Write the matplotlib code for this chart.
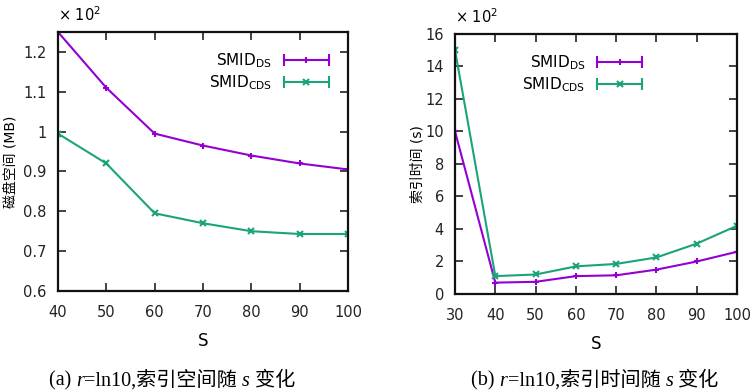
import matplotlib
matplotlib.use("Agg")
import matplotlib.pyplot as plt
from matplotlib.lines import Line2D
from matplotlib.legend_handler import HandlerLine2D, HandlerTuple
from matplotlib.offsetbox import TextArea, HPacker, AnnotationBbox

plt.rcParams["font.family"] = ["DejaVu Sans", "Noto Sans CJK SC"]

# data (values shown on the axes, i.e. x 10^2)
s_space = [40, 50, 60, 70, 80, 90, 100]
space_ds = [1.25, 1.11, 0.995, 0.965, 0.94, 0.92, 0.905]
space_cds = [0.995, 0.92, 0.795, 0.77, 0.75, 0.743, 0.743]

s_time = [30, 40, 50, 60, 70, 80, 90, 100]
time_ds = [10.0, 0.7, 0.75, 1.1, 1.15, 1.5, 2.0, 2.6]
time_cds = [15.0, 1.1, 1.2, 1.7, 1.85, 2.25, 3.1, 4.2]

purple = "#9400d3"
green = "#1ba37c"

fig = plt.figure(figsize=(7.51, 3.92), dpi=100)
ax1 = fig.add_axes([0.0772, 0.2577, 0.3862, 0.6607])
ax2 = fig.add_axes([0.6059, 0.25, 0.3755, 0.6633])


def legend_handles(color, marker):
    caps = Line2D([], [], color=color, lw=1.5, marker="|", markersize=9, markeredgewidth=1.5)
    mark = Line2D([], [], color=color, lw=0, marker=marker, markersize=5, markeredgewidth=1.5)
    return (caps, mark), {caps: HandlerLine2D(numpoints=2), mark: HandlerLine2D(numpoints=1)}


def style(ax, xlim, ylim, xticks, yticks):
    ax.set_xlim(*xlim)
    ax.set_ylim(*ylim)
    ax.set_xticks(xticks)
    ax.set_yticks(yticks)
    ax.tick_params(direction="in", top=True, right=True, length=6, width=1.2,
                   labelsize=10.5, pad=10, colors="#222222")
    ax.tick_params(axis="y", pad=8)
    for sp in ax.spines.values():
        sp.set_linewidth(1.6)
        sp.set_color("#111111")


def draw(ax, x, ds, cds, loc_anchor):
    ax.plot(x, ds, color=purple, lw=1.5, marker="+", markersize=5, markeredgewidth=1.5)
    ax.plot(x, cds, color=green, lw=1.5, marker="x", markersize=4, markeredgewidth=1.5)
    h1, m1 = legend_handles(purple, "+")
    h2, m2 = legend_handles(green, "x")
    m1.update(m2)
    m1[tuple] = HandlerTuple(ndivide=1, pad=0)
    ax.legend([h1, h2], [r"SMID$_{\mathrm{DS}}$", r"SMID$_{\mathrm{CDS}}$"],
              handler_map=m1, markerfirst=False, frameon=False, fontsize=11,
              handlelength=3.5, handletextpad=0.5, labelspacing=0.25,
              loc="upper right", bbox_to_anchor=loc_anchor, borderaxespad=0)


def caption(x, pieces):
    cjk = ["Liberation Serif", "Noto Sans CJK SC"]
    areas = []
    for txt, italic in pieces:
        props = dict(family=cjk, fontsize=14.5, style="italic" if italic else "normal")
        areas.append(TextArea(txt, textprops=props))
    box = HPacker(children=areas, align="baseline", pad=0, sep=0)
    ab = AnnotationBbox(box, (x, 0.003), xycoords="figure fraction",
                        box_alignment=(0.5, 0), frameon=False, pad=0)
    fig.add_artist(ab)


# (a) index space
draw(ax1, s_space, space_ds, space_cds, (0.97, 0.95))
style(ax1, (40, 100), (0.6, 1.25), s_space, [0.6, 0.7, 0.8, 0.9, 1.0, 1.1, 1.2])
ax1.set_yticklabels(["0.6", "0.7", "0.8", "0.9", "1", "1.1", "1.2"])
ax1.set_xlabel("S", fontsize=12, labelpad=9)
ax1.set_ylabel("磁盘空间 (MB)", fontsize=10)
ax1.yaxis.set_label_coords(-0.14, 0.5)
ax1.text(0.0, 1.03, r"× 10$^{2}$", transform=ax1.transAxes, fontsize=10.5,
         ha="left", va="bottom")

# (b) index time
draw(ax2, s_time, time_ds, time_cds, (0.70, 0.95))
style(ax2, (30, 100), (0, 16), s_time, [0, 2, 4, 6, 8, 10, 12, 14, 16])
ax2.set_xlabel("S", fontsize=12, labelpad=9)
ax2.set_ylabel("索引时间 (s)", fontsize=10)
ax2.yaxis.set_label_coords(-0.108, 0.5)
ax2.text(0.0, 1.03, r"× 10$^{2}$", transform=ax2.transAxes, fontsize=10.5,
         ha="left", va="bottom")

caption(0.229, [("(a) ", False), ("r", True), ("=ln10,索引空间随 ", False),
                ("s", True), (" 变化", False)])
caption(0.792, [("(b) ", False), ("r", True), ("=ln10,索引时间随 ", False),
                ("s", True), (" 变化", False)])

fig.savefig("out.png", dpi=100)
